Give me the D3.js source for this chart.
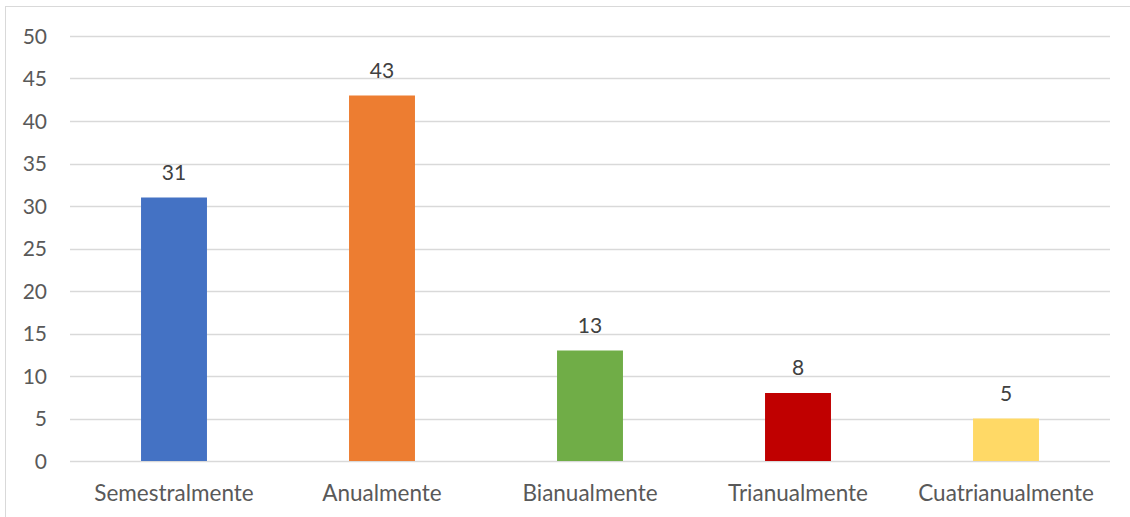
<!DOCTYPE html>
<html>
<head>
<meta charset="utf-8">
<script src="https://cdn.jsdelivr.net/npm/d3@7"></script>
<style>
  body { margin: 0; background: #fff; }
  svg text { font-family: Lato, "Open Sans", sans-serif; fill: #595959; }
</style>
</head>
<body>
<svg id="chart"></svg>
<script>
var categories = ["Semestralmente", "Anualmente", "Bianualmente", "Trianualmente", "Cuatrianualmente"];
var values = [31, 43, 13, 8, 5];
var colors = ["#4472C4", "#ED7D31", "#70AD47", "#C00000", "#FFD966"];
var yTicks = [0, 5, 10, 15, 20, 25, 30, 35, 40, 45, 50];

var W = 1130, H = 517;
var margin = { top: 36, right: 20, bottom: 56, left: 70 },
    width = 1110 - margin.left,
    height = 461 - margin.top;

var root = d3.select("#chart").attr("width", W).attr("height", H);

// outer chart frame (bottom and right run off the picture)
root.append("rect")
    .attr("x", 5.5).attr("y", 6.5)
    .attr("width", W + 10).attr("height", H + 10)
    .attr("fill", "none").attr("stroke", "#D9D9D9").attr("stroke-width", 1);

var svg = root.append("g")
    .attr("transform", "translate(" + margin.left + "," + margin.top + ")");

var x = d3.scaleBand().domain(categories).range([0, width]).paddingInner(0.683).paddingOuter(0.3415);
var y = d3.scaleLinear().domain([0, 50]).range([height, 0]);

// gridlines
svg.append("g").selectAll("line").data(yTicks).enter().append("line")
    .attr("x1", 0).attr("x2", width)
    .attr("y1", function(d){ return Math.round(y(d)) + 0.5; })
    .attr("y2", function(d){ return Math.round(y(d)) + 0.5; })
    .attr("stroke", "#D9D9D9").attr("stroke-width", 1.3);

// y axis labels
var yAxis = d3.axisLeft(y).tickValues(yTicks).tickSize(0).tickPadding(0);
var yg = svg.append("g").attr("transform", "translate(-23,0)").call(yAxis);
yg.select(".domain").remove();
yg.selectAll("text").style("font-size", "21px").attr("text-anchor", "end").attr("dy", "0.35em").attr("x", 0);

// bars
svg.selectAll("rect.bar").data(values).enter().append("rect")
    .attr("class", "bar")
    .attr("x", function(d, i){ return x(categories[i]); })
    .attr("width", x.bandwidth())
    .attr("y", function(d){ return y(d); })
    .attr("height", function(d){ return height - y(d); })
    .attr("fill", function(d, i){ return colors[i]; });

// value labels
svg.selectAll("text.val").data(values).enter().append("text")
    .attr("class", "val")
    .attr("x", function(d, i){ return x(categories[i]) + x.bandwidth() / 2; })
    .attr("y", function(d){ return y(d) - 18; })
    .attr("text-anchor", "middle")
    .style("font-size", "21px")
    .style("fill", "#404040")
    .text(function(d){ return d; });

// x axis labels
var xAxis = d3.axisBottom(x).tickSize(0).tickPadding(0);
var xg = svg.append("g").attr("transform", "translate(0," + (height + 40) + ")").call(xAxis);
xg.select(".domain").remove();
xg.selectAll("text").style("font-size", "22.5px").attr("dy", "0");
</script>
</body>
</html>
